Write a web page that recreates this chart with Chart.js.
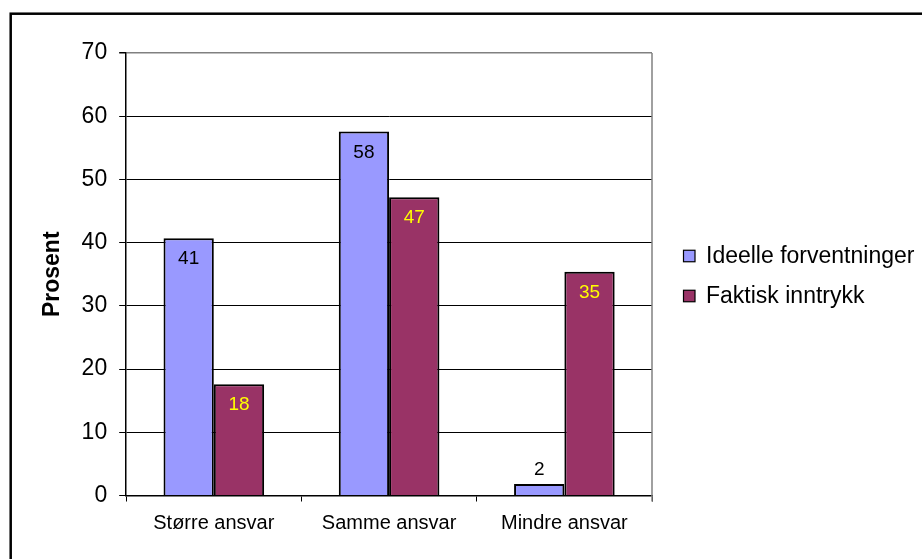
<!DOCTYPE html>
<html>
<head>
<meta charset="utf-8">
<script src="https://cdn.jsdelivr.net/npm/chart.js@4.4.1/dist/chart.umd.min.js"></script>
<style>
  html, body { margin: 0; padding: 0; background: #fff; }
  #wrap { width: 922px; height: 559px; position: relative; }
</style>
</head>
<body>
<div id="wrap"><canvas id="c"></canvas></div>
<script>
// values
var categories = ['Større ansvar', 'Samme ansvar', 'Mindre ansvar'];
var seriesNames = ['Ideelle forventninger', 'Faktisk inntrykk'];
var ideelle = [40.7, 57.6, 1.8];
var faktisk = [17.6, 47.2, 35.4];
var yMin = 0, yMax = 70, yStep = 10;

var FONT = 'Arial, "Liberation Sans", sans-serif';

// thick frame round the whole chart
var framePlugin = {
    id: 'frame',
    afterDraw: function(chart) {
        var ctx = chart.ctx;
        ctx.save();
        ctx.strokeStyle = '#000';
        ctx.lineWidth = 2.5;
        ctx.strokeRect(10.7, 13.7, 2000, 2000);
        // grey right edge of the plot area
        var a = chart.chartArea;
        ctx.strokeStyle = '#808080';
        ctx.lineWidth = 1.5;
        ctx.beginPath();
        ctx.moveTo(a.right, a.top);
        ctx.lineTo(a.right, a.bottom + 6);
        ctx.stroke();
        ctx.restore();
    }
};

// value labels inside the top of each bar
var valueLabels = {
    id: 'valueLabels',
    afterDatasetsDraw: function(chart) {
        var ctx = chart.ctx;
        ctx.save();
        ctx.font = '19px ' + FONT;
        ctx.textAlign = 'center';
        ctx.textBaseline = 'middle';
        chart.data.datasets.forEach(function(ds, di) {
            var meta = chart.getDatasetMeta(di);
            meta.data.forEach(function(bar, i) {
                var txt = String(Math.round(ds.data[i]));
                if (bar.base - bar.y > 30) {
                    ctx.fillStyle = ds.labelColor;
                    ctx.fillText(txt, bar.x, bar.y + 21);
                } else {
                    ctx.fillStyle = '#000';
                    ctx.fillText(txt, bar.x, bar.y - 14);
                }
            });
        });
        ctx.restore();
    }
};

// legend drawn at the right, Excel style
var sideLegend = {
    id: 'sideLegend',
    afterDraw: function(chart) {
        var ctx = chart.ctx;
        var x = 683.5, y0 = 256, gap = 40, box = 11.5;
        ctx.save();
        ctx.font = '23px ' + FONT;
        ctx.textBaseline = 'middle';
        ctx.textAlign = 'left';
        chart.data.datasets.forEach(function(ds, i) {
            var y = y0 + i * gap;
            ctx.fillStyle = ds.backgroundColor;
            ctx.fillRect(x, y - box / 2, box, box);
            ctx.strokeStyle = '#000';
            ctx.lineWidth = 1.2;
            ctx.strokeRect(x, y - box / 2, box, box);
            ctx.fillStyle = '#000';
            ctx.fillText(ds.label, x + 22.5, y + 1);
        });
        ctx.restore();
    }
};

new Chart(document.getElementById('c'), {
    type: 'bar',
    data: {
        labels: categories,
        datasets: [
            {
                label: seriesNames[0],
                data: ideelle,
                backgroundColor: '#9999FF',
                borderColor: '#000',
                borderWidth: 2,
                labelColor: '#000',
                categoryPercentage: 0.574,
                barPercentage: 1
            },
            {
                label: seriesNames[1],
                data: faktisk,
                backgroundColor: '#993366',
                borderColor: '#000',
                borderWidth: 2,
                labelColor: '#FFFF00',
                categoryPercentage: 0.574,
                barPercentage: 1
            }
        ]
    },
    options: {
        responsive: true,
        maintainAspectRatio: false,
        animation: false,
        devicePixelRatio: 1,
        layout: { padding: { left: 39, top: 53, right: 270, bottom: 13.5 } },
        plugins: {
            legend: { display: false },
            tooltip: { enabled: false }
        },
        scales: {
            x: {
                grid: {
                    drawOnChartArea: false,
                    drawTicks: true,
                    tickLength: 6,
                    tickColor: '#000',
                    offset: true
                },
                border: { color: '#000', width: 1.5 },
                ticks: {
                    color: '#000',
                    font: { family: FONT, size: 20 },
                    padding: 10
                }
            },
            y: {
                min: yMin,
                max: yMax,
                grid: {
                    color: function(c) { return c.tick && c.tick.value === yMax ? '#808080' : '#000'; },
                    lineWidth: function(c) { return c.tick && c.tick.value === yMax ? 1.5 : 1; },
                    tickLength: 7,
                    tickColor: '#000'
                },
                border: { color: '#000', width: 1.5 },
                ticks: {
                    stepSize: yStep,
                    color: '#000',
                    font: { family: FONT, size: 23 },
                    padding: 12
                },
                title: {
                    display: true,
                    text: 'Prosent',
                    color: '#000',
                    font: { family: FONT, size: 23, weight: 'bold' },
                    padding: { top: 0, bottom: 3 }
                }
            }
        }
    },
    plugins: [framePlugin, valueLabels, sideLegend]
});
</script>
</body>
</html>
